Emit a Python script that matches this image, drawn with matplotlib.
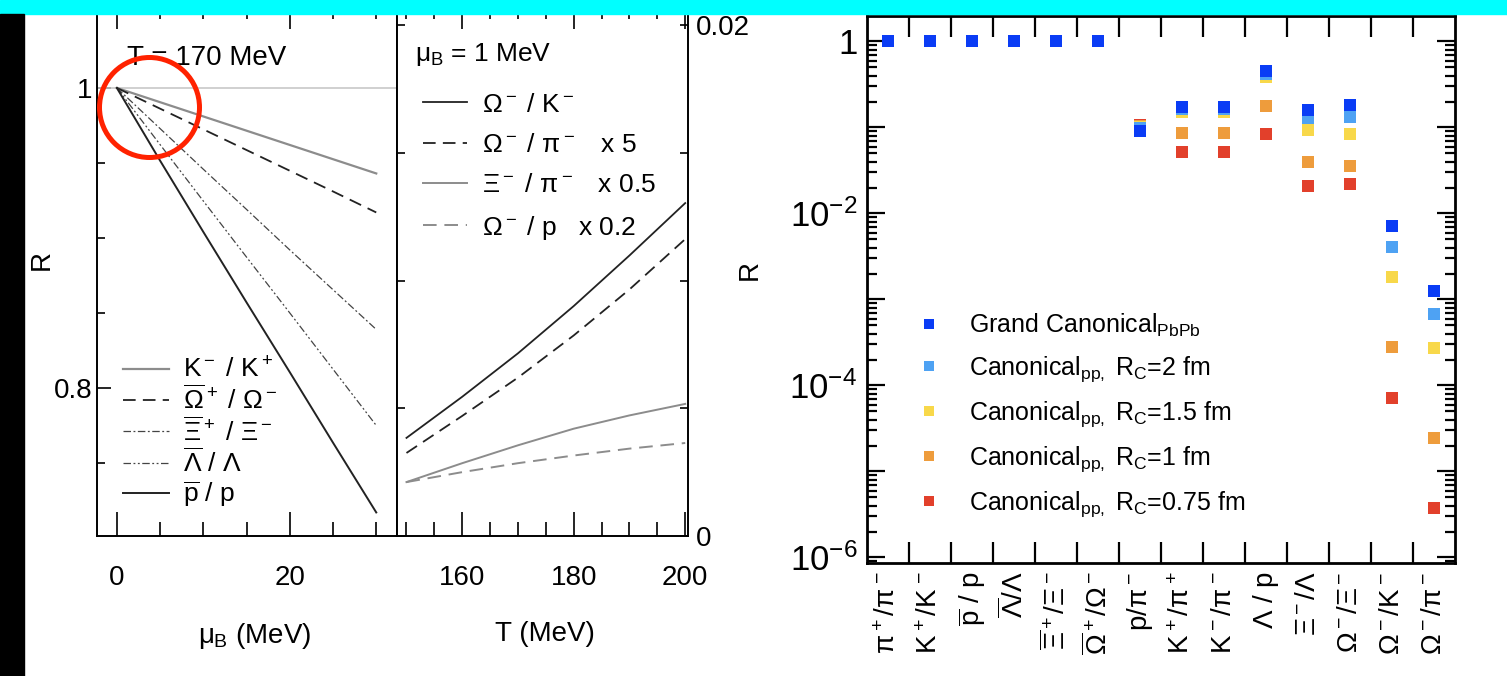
import numpy as np
import matplotlib.pyplot as plt
from matplotlib.patches import Rectangle, Ellipse
from matplotlib.ticker import MultipleLocator, FixedLocator, LogLocator, FuncFormatter, NullFormatter

plt.rcParams['font.family'] = ['Liberation Sans', 'DejaVu Sans']
plt.rcParams['mathtext.fontset'] = 'custom'
plt.rcParams['mathtext.rm'] = 'Liberation Sans'
plt.rcParams['mathtext.it'] = 'Liberation Sans'
plt.rcParams['mathtext.sf'] = 'Liberation Sans'
plt.rcParams['mathtext.bf'] = 'Liberation Sans:bold'

# antiparticle / particle ratios vs mu_B at T = 170 MeV
mu_B = np.array([0, 5, 10, 15, 20, 25, 30])
R_KK = [1.0, 0.9905, 0.981, 0.9715, 0.962, 0.9525, 0.943]
R_OmOm = [1.0, 0.9862, 0.9724, 0.9586, 0.9448, 0.931, 0.917]
R_XiXi = [1.0, 0.9729, 0.9458, 0.919, 0.892, 0.8655, 0.839]
R_LaLa = [1.0, 0.9622, 0.9246, 0.8872, 0.85, 0.8125, 0.775]
R_pp = [1.0, 0.9515, 0.904, 0.857, 0.8105, 0.7635, 0.717]

# strange ratios vs T at mu_B = 1 MeV (scaled)
T = np.array([150, 160, 170, 180, 190, 200])
R_OmK = [0.00384, 0.00545, 0.00715, 0.00900, 0.01098, 0.01303]
R_Ompi = [0.00325, 0.00470, 0.00620, 0.00785, 0.00965, 0.01162]
R_Xipi = [0.00211, 0.00285, 0.00355, 0.00420, 0.00472, 0.00517]
R_Omp = [0.00211, 0.00250, 0.00285, 0.00315, 0.00342, 0.00364]

# particle ratios, grand canonical vs canonical
ratio_names = [r'$\pi^+/\pi^-$', r'$K^+/K^-$', r'$\overline{p}\ /\ p$', r'$\overline{\Lambda}/\Lambda$',
               r'$\overline{\Xi}^+/\Xi^-$', r'$\overline{\Omega}^+/\Omega^-$', r'$p/\pi^-$',
               r'$K^+/\pi^+$', r'$K^-/\pi^-$', r'$\Lambda\ /\ p$', r'$\Xi^-/\Lambda$',
               r'$\Omega^-/\Xi^-$', r'$\Omega^-/K^-$', r'$\Omega^-/\pi^-$']
gc_PbPb = [1, 1, 1, 1, 1, 1, 0.091, 0.173, 0.173, 0.454, 0.160, 0.183, 7.2e-3, 1.26e-3]
can_2 = [1, 1, 1, 1, 1, 1, 0.098, 0.162, 0.162, 0.420, 0.129, 0.132, 4.07e-3, 6.8e-4]
can_15 = [1, 1, 1, 1, 1, 1, 0.100, 0.151, 0.151, 0.387, 0.094, 0.084, 1.83e-3, 2.73e-4]
can_1 = [1, 1, 1, 1, 1, 1, 0.105, 0.086, 0.086, 0.178, 0.040, 0.036, 2.8e-4, 2.45e-5]
can_075 = [1, 1, 1, 1, 1, 1, 0.107, 0.052, 0.052, 0.084, 0.021, 0.022, 7.2e-5, 3.8e-6]

W, H = 1507, 676
fig = plt.figure(figsize=(W / 100, H / 100), dpi=100)


def px_box(x0, y0, x1, y1):
    return [x0 / W, 1 - y1 / H, (x1 - x0) / W, (y1 - y0) / H]


ax1 = fig.add_axes(px_box(97, 5, 397, 536))
ax2 = fig.add_axes(px_box(397, 5, 688, 536))
ax3 = fig.add_axes(px_box(867, 16, 1455, 563))

# ---- left: ratios vs mu_B
ax1.axhline(1.0, color='#c8c8c8', lw=1.2)
ax1.plot(mu_B, R_KK, color='#8c8c8c', lw=1.6, label=r'K$^-$ / K$^+$')
ax1.plot(mu_B, R_OmOm, color='#222222', lw=1.3, dashes=(7, 4), label=r'$\overline{\Omega}^+$ / $\Omega^-$')
ax1.plot(mu_B, R_XiXi, color='#444444', lw=0.9, dashes=(6, 2, 1.5, 2), label=r'$\overline{\Xi}^+$ / $\Xi^-$')
ax1.plot(mu_B, R_LaLa, color='#444444', lw=0.9, dashes=(6, 2, 1.5, 2, 1.5, 2), label=r'$\overline{\Lambda}$ / $\Lambda$')
ax1.plot(mu_B, R_pp, color='#222222', lw=1.4, label=r'$\overline{\rm p}$ / p')
ax1.set_xlim(-2.3, 32.4)
ax1.set_ylim(0.7013, 1.0553)
ax1.xaxis.set_major_locator(MultipleLocator(20))
ax1.xaxis.set_minor_locator(MultipleLocator(5))
ax1.yaxis.set_major_locator(MultipleLocator(0.2))
ax1.yaxis.set_minor_locator(MultipleLocator(0.05))
ax1.yaxis.set_major_formatter(FuncFormatter(lambda v, p: '%g' % round(v, 3)))
ax1.tick_params(which='both', direction='in', top=True, right=False, labelsize=20, width=1.2)
ax1.tick_params(axis='x', which='major', length=17, pad=21)
ax1.tick_params(axis='x', which='minor', length=10)
ax1.tick_params(axis='y', which='major', length=10, pad=3)
ax1.tick_params(axis='y', which='minor', length=6)
ax1.set_xlabel(r'$\mu_{\rm B}$ (MeV)', fontsize=20)
ax1.xaxis.set_label_coords(0.527, -0.16)
ax1.set_ylabel('R', fontsize=20)
ax1.yaxis.set_label_coords(-0.14, 0.52)
ax1.text(0.1, 0.90, 'T = 170 MeV', transform=ax1.transAxes, fontsize=20, va='center', ha='left')
ax1.legend(loc='lower left', bbox_to_anchor=(0.087, 0.05), frameon=False, fontsize=19,
           handlelength=1.74, handletextpad=0.53, labelspacing=0.1, borderpad=0, borderaxespad=0)

# ---- middle: ratios vs T
ax2.plot(T, R_OmK, color='#222222', lw=1.3, label=r'$\Omega^-$ / K$^-$')
ax2.plot(T, R_Ompi, color='#222222', lw=1.3, dashes=(7, 4), label=r'$\Omega^-$ / $\pi^-$   x 5')
ax2.plot(T, R_Xipi, color='#8c8c8c', lw=1.4, label=r'$\Xi^-$ / $\pi^-$   x 0.5')
ax2.plot(T, R_Omp, color='#8c8c8c', lw=1.4, dashes=(7, 4), label=r'$\Omega^-$ / p   x 0.2')
ax2.set_xlim(148.3, 200.5)
ax2.set_ylim(0, 0.020783)
ax2.xaxis.set_major_locator(MultipleLocator(20))
ax2.xaxis.set_minor_locator(MultipleLocator(5))
ax2.yaxis.set_major_locator(MultipleLocator(0.02))
ax2.yaxis.set_minor_locator(MultipleLocator(0.005))
ax2.yaxis.set_major_formatter(FuncFormatter(lambda v, p: '%g' % round(v, 4)))
ax2.tick_params(which='both', direction='in', top=True, left=True, right=True,
                labelleft=False, labelright=True, labelsize=20, width=1.2)
ax2.tick_params(axis='x', which='major', length=17, pad=21)
ax2.tick_params(axis='x', which='minor', length=10)
ax2.tick_params(axis='y', which='both', length=6, pad=6)
ax2.set_xlabel('T (MeV)', fontsize=20)
ax2.xaxis.set_label_coords(0.509, -0.16)
ax2.text(0.062, 0.906, r'$\mu_{\rm B}$ = 1 MeV', transform=ax2.transAxes, fontsize=19, va='center', ha='left')
ax2.legend(loc='upper left', bbox_to_anchor=(0.089, 0.835), frameon=False, fontsize=19,
           handlelength=1.67, handletextpad=0.57, labelspacing=0.62, borderpad=0, borderaxespad=0)

for ax in (ax1, ax2):
    for sp in ax.spines.values():
        sp.set_linewidth(1.4)

# ---- right: grand canonical vs canonical
x = np.arange(len(ratio_names))
series = [
    (can_075, '#e2402b', r'Canonical$_{\rm pp,}$ R$_{\rm C}$=0.75 fm'),
    (can_1, '#ee9c3c', r'Canonical$_{\rm pp,}$ R$_{\rm C}$=1 fm'),
    (can_15, '#f8d84a', r'Canonical$_{\rm pp,}$ R$_{\rm C}$=1.5 fm'),
    (can_2, '#4ea2f3', r'Canonical$_{\rm pp,}$ R$_{\rm C}$=2 fm'),
    (gc_PbPb, '#0a3cf5', r'Grand Canonical$_{\rm PbPb}$'),
]
handles = []
for vals, col, lab in series:
    h, = ax3.plot(x, vals, 's', ls='none', ms=9, mew=0, color=col, label=lab)
    handles.append(h)
ax3.set_yscale('log')
ax3.set_xlim(-0.5, len(ratio_names) - 0.5)
ax3.set_ylim(10 ** -6.064, 10 ** 0.2965)
ax3.set_xticks(x)
ax3.set_xticklabels(ratio_names, rotation=90, fontsize=20, va='top')
ax3.xaxis.set_minor_locator(FixedLocator(np.arange(0.5, len(ratio_names) - 1, 1)))
ax3.yaxis.set_major_locator(LogLocator(base=10, numticks=20))
ax3.yaxis.set_minor_locator(LogLocator(base=10, subs=np.arange(2, 10), numticks=20))
ax3.yaxis.set_minor_formatter(NullFormatter())


def decade_label(v, p):
    e = int(round(np.log10(v)))
    if e % 2:
        return ''
    return '1' if e == 0 else r'$10^{%d}$' % e


ax3.yaxis.set_major_formatter(FuncFormatter(decade_label))
ax3.tick_params(which='both', direction='in', top=True, right=True, width=1.6)
ax3.tick_params(axis='x', which='major', length=0, pad=6)
ax3.tick_params(axis='x', which='minor', length=15)
ax3.tick_params(axis='y', which='major', length=13, pad=7, labelsize=25)
ax3.tick_params(axis='y', which='minor', length=7)
for sp in ax3.spines.values():
    sp.set_linewidth(2.0)
ax3.set_ylabel('R', fontsize=20)
ax3.yaxis.set_label_coords(-0.177, 0.536)
ax3.legend(handles=handles[::-1], loc='upper left', bbox_to_anchor=(0.085, 0.46), frameon=False,
           fontsize=18, handlelength=1.0, handletextpad=1.1, labelspacing=0.62, borderpad=0,
           borderaxespad=0, markerscale=0.85)

# page decorations: header band, side bar and highlight ring
fig.add_artist(Rectangle((0, 1 - 14 / H), 1, 14 / H, transform=fig.transFigure,
                         color='#00ffff', zorder=5))
fig.add_artist(Rectangle((0, 0), 24 / W, 1 - 14 / H, transform=fig.transFigure,
                         color='black', zorder=5))
fig.add_artist(Ellipse((149.5 / W, 1 - 107.5 / H), 100 / W, 100 / H, transform=fig.transFigure,
                       fill=False, ec='#ff2200', lw=3.6, zorder=6))

fig.savefig('out.png', dpi=100)
